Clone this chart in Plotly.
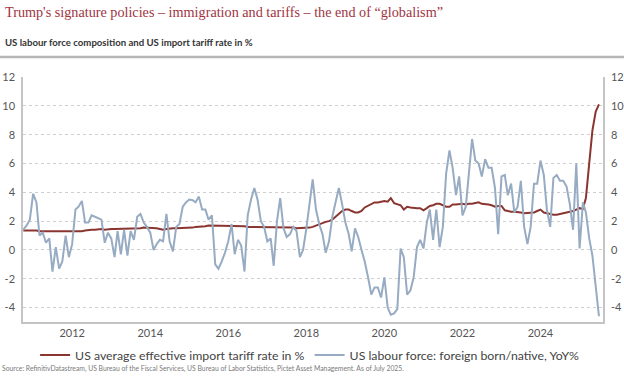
import plotly.graph_objects as go
import pandas as pd

# Monthly observations, Oct 2010 - Jul 2025
start_month = "2010-10-01"

tariff_rate = [
    1.35, 1.35, 1.4, 1.4,
    1.35, 1.3, 1.3, 1.3,
    1.3, 1.3, 1.3, 1.3, 1.3, 1.3,
    1.3, 1.25, 1.25, 1.25, 1.3,
    1.35, 1.4, 1.4, 1.4,
    1.45, 1.45, 1.4, 1.45, 1.45, 1.45, 1.45, 1.45,
    1.5, 1.5, 1.5, 1.5, 1.5, 1.5,
    1.55, 1.55, 1.55, 1.5, 1.5,
    1.45, 1.4, 1.45,
    1.5, 1.5, 1.5, 1.5, 1.55, 1.55,
    1.55, 1.55, 1.6, 1.6,
    1.65, 1.65, 1.7, 1.7, 1.7, 1.7,
    1.7, 1.7, 1.7, 1.65, 1.65, 1.7,
    1.7, 1.65, 1.6, 1.6, 1.6, 1.6,
    1.55, 1.55, 1.55, 1.55, 1.55, 1.55, 1.55, 1.55,
    1.6, 1.6, 1.55, 1.5,
    1.5, 1.5, 1.5, 1.55, 1.6,
    1.7, 1.75, 1.85, 1.95, 2.0, 2.1,
    2.3, 2.5, 2.7, 2.8,
    2.8, 2.7, 2.6, 2.6, 2.7,
    2.95, 3.05, 3.2, 3.3, 3.3,
    3.35, 3.4, 3.35, 3.6, 3.25, 3.15,
    3.1, 2.8, 3.0, 2.95, 2.9,
    2.9, 2.9, 2.75, 2.9, 3.05,
    3.1, 3.2, 3.2, 3.1, 3.0,
    3.0, 3.15, 3.15, 3.2, 3.2,
    3.15, 3.2, 3.2, 3.25, 3.3,
    3.2, 3.2, 3.15, 3.1, 3.0,
    3.05, 3.05, 2.75, 2.7, 2.65,
    2.65, 2.65, 2.6, 2.55, 2.55,
    2.55, 2.6, 2.7, 2.8, 2.6,
    2.55, 2.5, 2.45, 2.45, 2.5,
    2.5, 2.55, 2.65, 2.7, 2.8,
    2.9, 2.85, 3.6, 6.0, 8.3, 9.6, 10.1,
]

labour_ratio_yoy = [
    1.4, 1.7, 2.1, 3.9, 3.3, 1.0, 1.2, 0.5, 0.8, -1.5,
    0.2, -1.3, -0.8, 1.0, -0.5, 0.4, 2.8, 3.0, 3.4, 1.9,
    1.9, 2.4, 2.3, 2.2, 2.1, 0.5, 1.2, 0.8, -0.5, 1.3,
    -0.3, 1.4, -0.4, 1.3, 0.7, 2.3, 2.5, 1.9, 1.6, 1.2,
    0.0, 0.4, 0.7, 0.6, 2.5, 0.6, -0.1, 1.6, 1.8, 3.0,
    3.3, 3.5, 3.45, 3.3, 3.7, 2.8, 2.8, 2.1, 2.4, -1.0,
    -1.3, -0.8, -0.2, 0.6, 1.8, -0.3, 0.7, 0.3, -1.5, 2.4,
    3.5, 4.3, 3.5, 2.0, 1.6, 0.6, 0.8, -1.1, 2.0, 3.6,
    1.5, 0.9, 1.1, 1.6, 1.3, -0.5, 0.0, 1.5, 3.3, 4.9,
    2.8, 1.8, 1.1, -0.2, 0.6, 2.3, 3.3, 4.3, 3.2, 1.9,
    1.1, -0.1, 1.5, 0.9, 0.0, -0.8, -1.9, -3.1, -2.6, -2.6,
    -3.3, -1.9, -4.0, -4.5, -4.4, -4.1, 0.1, -0.5, -3.1, -2.8,
    -1.9, 0.2, 0.7, 0.1, 1.9, 2.8, 0.7, 2.8, 0.2, 1.6,
    5.3, 6.9, 5.7, 3.8, 5.1, 2.4, 3.0, 5.0, 7.7, 6.2,
    6.0, 5.1, 6.3, 5.7, 5.7, 4.3, 1.1, 5.1, 5.2, 3.8,
    4.6, 2.6, 3.0, 4.8, 1.6, 0.4, 1.6, 4.6, 4.6, 6.2,
    5.2, 2.8, 1.6, 5.0, 5.2, 4.8, 4.8, 4.4, 3.2, 1.4,
    6.0, 0.1, 3.3, 2.6, 0.8, -0.4, -2.6, -4.6,
]

y_ticks = [-4, -2, 0, 2, 4, 6, 8, 10, 12]
x_ticks = ["2012", "2014", "2016", "2018", "2020", "2022", "2024"]

title_text = "Trump's signature policies \u2013 immigration and tariffs \u2013 the end of \u201cglobalism\u201d"
subtitle_text = "US labour force composition and US import tariff rate in %"
source_text = ("Source: RefinitivDatastream, US Bureau of the Fiscal Services, US Bureau of Labor "
               "Statistics, Pictet Asset Management. As of July 2025.")
name_tariff = "US average effective import tariff rate in %"
name_labour = "US labour force: foreign born/native, YoY%"

dates = pd.date_range(start_month, periods=len(tariff_rate), freq="MS")

RED = "#8a3530"
BLUE = "#97abc3"
AXIS = "#c4c4c4"
GRID = "#cfcfcf"
FONT = "Lato"

PW, PH = 580, 245  # plot area size in px
ML, MT = 23, 77

fig = go.Figure()
fig.add_trace(go.Scatter(x=dates, y=tariff_rate, name=name_tariff, mode="lines",
                         line=dict(color=RED, width=2)))
fig.add_trace(go.Scatter(x=dates, y=labour_ratio_yoy, name=name_labour, mode="lines",
                         line=dict(color=BLUE, width=2)))
# invisible trace to drive the right axis
fig.add_trace(go.Scatter(x=dates[:1], y=[0], yaxis="y2", showlegend=False,
                         mode="lines", line=dict(width=0), hoverinfo="skip"))

fig.update_layout(
    width=624, height=378,
    margin=dict(l=ML, r=624 - ML - PW, t=MT, b=378 - MT - PH, autoexpand=False),
    paper_bgcolor="white", plot_bgcolor="white",
    font=dict(family=FONT, color="#555555", size=11),
    showlegend=True,
    legend=dict(orientation="h", x=0.495, xanchor="center", y=-(355 - 322) / PH, yanchor="middle",
                font=dict(size=12.3, color="#444444", family=FONT),
                itemwidth=30, tracegroupgap=0, bgcolor="rgba(0,0,0,0)"),
    xaxis=dict(
        type="date",
        range=["2010-09-28", "2025-08-08"],
        tickvals=[f"{y}-01-01" for y in x_ticks],
        ticktext=x_ticks,
        showgrid=False, showline=True, linecolor=AXIS, linewidth=1.5,
        ticks="", tickfont=dict(size=11, color="#555555"),
        zeroline=False,
    ),
    yaxis=dict(
        range=[-5, 12], tickvals=y_ticks, ticktext=[str(v) for v in y_ticks],
        showgrid=True, gridcolor=GRID, griddash="dot", gridwidth=1,
        showline=True, linecolor=AXIS, linewidth=1.5, zeroline=False,
        ticks="", tickfont=dict(size=11, color="#555555"), ticklabelstandoff=4,
    ),
    yaxis2=dict(
        range=[-5, 12], tickvals=y_ticks, ticktext=[str(v) for v in y_ticks],
        overlaying="y", side="right", showgrid=False,
        showline=True, linecolor=AXIS, linewidth=1.5, zeroline=False,
        ticks="", tickfont=dict(size=11, color="#555555"), ticklabelstandoff=4,
    ),
    annotations=[
        dict(text=title_text, xref="paper", yref="paper", x=-(ML - 3) / PW, y=1 + (MT - 12) / PH,
             xanchor="left", yanchor="middle", showarrow=False,
             font=dict(family="Liberation Serif", size=14.2, color="#a0343f")),
        dict(text=subtitle_text, xref="paper", yref="paper", x=-(ML - 3) / PW, y=1 + (MT - 42) / PH,
             xanchor="left", yanchor="middle", showarrow=False,
             font=dict(family=FONT, size=9.6, color="#333333", weight="bold")),
        dict(text=source_text, xref="paper", yref="paper", x=-ML / PW, y=-(368 - 322) / PH,
             xanchor="left", yanchor="middle", showarrow=False,
             font=dict(family=FONT, size=6.8, color="#7a7a7a")),
    ],
    shapes=[
        dict(type="line", xref="paper", yref="paper", x0=-ML / PW, x1=(624 - ML) / PW,
             y0=1 + (MT - 57) / PH, y1=1 + (MT - 57) / PH,
             line=dict(color="#b5b5b5", width=2.5)),
    ],
)

fig.write_html("out.html",
               config={"displayModeBar": False},
               post_script="document.body.style.margin='0';document.body.style.overflow='hidden';")
